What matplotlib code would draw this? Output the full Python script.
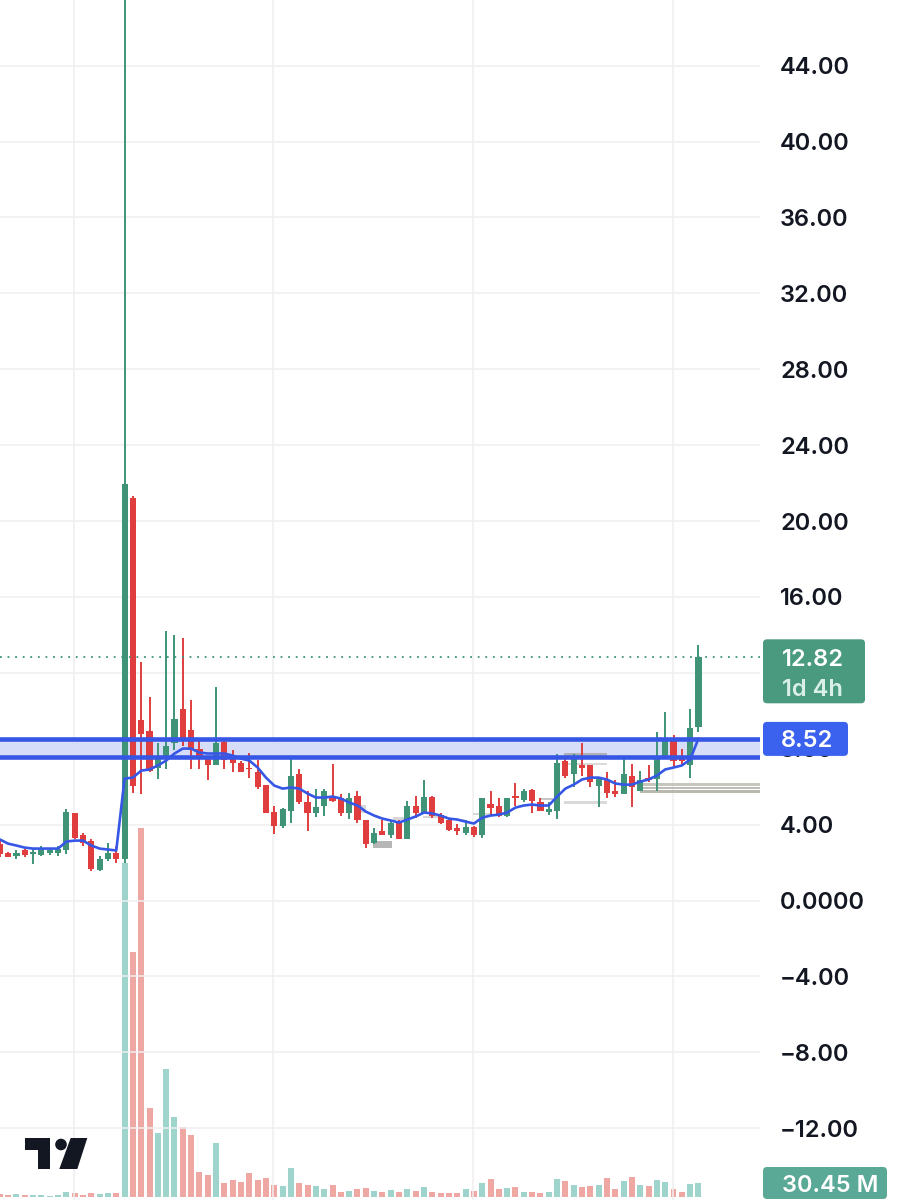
import matplotlib
matplotlib.use("Agg")
import matplotlib.pyplot as plt
import matplotlib.patches as mpatches
import numpy as np

# ---- data (one candle per bar, volumes in millions) ----
opens = [3.00, 2.53, 2.37, 2.64, 2.48, 2.42, 2.53, 2.53, 2.69, 4.59,
         3.48, 3.16, 1.63, 2.21, 2.53, 2.21, 21.20, 9.54, 8.91, 7.01,
         7.64, 8.28, 10.12, 9.01, 8.01, 7.54, 7.17, 8.38, 7.54, 7.27,
         7.01, 6.80, 6.11, 4.69, 3.95, 4.74, 6.69, 5.22, 4.59, 5.01,
         5.53, 5.38, 4.64, 5.53, 4.22, 3.06, 3.64, 3.43, 4.11, 3.27,
         5.01, 4.59, 5.48, 4.53, 4.22, 3.80, 3.58, 3.90, 3.48, 5.11,
         5.01, 4.48, 5.53, 5.32, 5.85, 5.22, 4.69, 4.74, 7.38, 6.69,
         7.17, 7.12, 6.06, 6.33, 5.75, 5.64, 6.59, 5.75, 6.48, 6.43,
         7.59, 8.59, 7.48, 7.12, 9.17]
closes = [2.48, 2.32, 2.53, 2.42, 2.58, 2.79, 2.69, 2.74, 4.69, 3.32,
          3.06, 1.69, 2.21, 2.53, 2.21, 21.93, 6.06, 8.80, 6.85, 7.64,
          8.17, 9.59, 8.59, 7.91, 7.48, 7.17, 8.33, 7.43, 7.27, 6.80,
          6.91, 6.01, 4.64, 3.95, 4.80, 6.59, 5.17, 4.64, 4.95, 5.80,
          5.27, 4.59, 5.38, 4.22, 3.00, 3.58, 3.48, 4.11, 3.27, 5.01,
          4.59, 5.48, 4.48, 4.11, 3.74, 3.69, 3.90, 3.43, 5.38, 4.90,
          4.48, 5.38, 5.38, 5.80, 5.27, 4.74, 4.85, 7.27, 6.54, 7.64,
          7.01, 6.27, 6.43, 5.69, 5.64, 6.69, 5.96, 6.38, 6.38, 7.64,
          8.49, 7.33, 7.33, 9.07, 12.82]
highs = [3.16, 2.58, 2.64, 2.74, 2.74, 2.90, 2.79, 2.90, 4.80, 4.64,
         3.58, 3.27, 2.37, 3.06, 2.90, 50.0, 21.30, 12.55, 10.75, 8.28,
         14.18, 14.02, 13.86, 10.59, 8.59, 7.64, 11.28, 8.43, 7.91, 7.38,
         7.80, 7.43, 6.11, 5.01, 4.90, 7.48, 6.96, 5.80, 5.90, 5.90,
         7.22, 5.64, 5.69, 5.75, 4.27, 3.80, 4.22, 4.22, 4.22, 5.27,
         5.53, 6.38, 5.53, 4.59, 4.32, 4.01, 4.22, 3.95, 5.43, 5.80,
         5.43, 5.43, 6.17, 5.90, 5.90, 5.43, 5.17, 7.75, 7.59, 7.75,
         8.28, 7.17, 6.48, 6.80, 6.33, 7.48, 7.22, 6.85, 7.17, 8.86,
         9.96, 8.75, 8.01, 10.07, 13.49]
lows = [2.32, 2.27, 2.21, 2.32, 1.95, 2.37, 2.42, 2.37, 2.48, 3.27,
        2.90, 1.58, 1.58, 2.11, 2.00, 2.00, 5.69, 5.59, 6.75, 6.43,
        6.96, 7.91, 8.12, 6.96, 6.96, 6.33, 7.12, 6.91, 6.75, 6.75,
        6.48, 5.90, 4.59, 3.53, 3.85, 4.11, 5.11, 3.69, 4.43, 4.48,
        5.17, 4.48, 4.32, 4.11, 2.79, 3.00, 3.43, 3.32, 3.22, 3.22,
        4.37, 4.59, 4.37, 4.06, 3.64, 3.48, 3.48, 3.37, 3.32, 4.48,
        4.43, 4.43, 5.01, 5.17, 4.64, 4.74, 4.53, 4.32, 6.48, 6.01,
        6.59, 5.96, 4.95, 5.38, 5.48, 5.64, 4.95, 5.75, 6.27, 5.80,
        7.59, 7.01, 7.22, 6.48, 8.86]
ma_line = [3.22, 3.00, 2.90, 2.79, 2.74, 2.74, 2.74, 2.74, 3.11, 3.16,
           3.16, 2.90, 2.74, 2.69, 2.64, 6.43, 6.48, 6.85, 6.91, 7.12,
           7.38, 7.75, 8.01, 8.01, 7.80, 7.75, 7.75, 7.75, 7.64, 7.48,
           7.38, 7.01, 6.48, 6.06, 5.90, 5.96, 5.90, 5.64, 5.43, 5.43,
           5.48, 5.38, 5.17, 5.01, 4.69, 4.48, 4.32, 4.22, 4.11, 4.27,
           4.43, 4.64, 4.59, 4.48, 4.32, 4.27, 4.16, 4.06, 4.37, 4.48,
           4.53, 4.64, 4.90, 5.01, 5.06, 5.01, 5.01, 5.48, 5.90, 6.11,
           6.38, 6.48, 6.48, 6.38, 6.17, 6.11, 6.11, 6.27, 6.38, 6.59,
           6.91, 7.01, 7.12, 7.43, 8.54]
volumes_m = [6.5, 4.4, 6.5, 4.4, 4.4, 4.4, 2.2, 4.4, 10.9, 8.7,
             4.4, 8.7, 6.5, 8.7, 8.7, 726, 533, 803, 194, 139,
             278, 174, 152, 135, 54, 48, 117, 30, 37, 33,
             52, 37, 41, 26, 24, 63, 30, 26, 24, 17,
             26, 11, 13, 17, 20, 13, 11, 15, 11, 17,
             13, 22, 11, 9, 9, 9, 17, 13, 30, 39,
             17, 20, 22, 11, 11, 9, 11, 39, 35, 26,
             22, 24, 26, 41, 17, 35, 43, 26, 24, 37,
             33, 17, 11, 28, 30.45]

band_top = 8.52
band_bottom = 7.56
last_price = 12.82
last_volume_label = "30.45 M"
countdown = "1d 4h"
# 12.00 sits fully under the last-price tag, so it is not labelled
price_ticks = [-12, -8, -4, 0, 4, 8, 12, 16, 20, 24, 28, 32, 36, 40, 44]
tick_labels = ["\u221212.00", "\u22128.00", "\u22124.00", "0.0000", "4.00", "8.00",
               "", "16.00", "20.00", "24.00", "28.00", "32.00", "36.00",
               "40.00", "44.00"]
date_grid = [8.9, 32.9, 56.9, 80.9]

# grey order labels: (first bar, last bar, low, high, shade)
order_boxes = [
    (44.9, 47.2, 2.79, 3.16, "#a9a9a9"),
    (42.9, 44.0, 4.64, 5.06, "#d0d0d0"),
    (47.3, 49.3, 4.22, 4.43, "#d0d0d0"),
    (50.9, 52.9, 4.37, 4.48, "#d0d0d0"),
    (54.1, 55.9, 4.22, 4.32, "#d0d0d0"),
    (56.9, 58.9, 4.53, 4.64, "#d0d0d0"),
    (64.8, 66.5, 5.32, 5.43, "#bdbdbd"),
    (67.8, 73.0, 7.59, 7.80, "#a9a9a9"),
    (67.8, 73.0, 7.12, 7.27, "#d3d3d3"),
    (67.8, 73.0, 5.11, 5.27, "#d3d3d3"),
    (77.0, 92.0, 6.06, 6.19, "#bdbcb3"),
    (77.0, 92.0, 5.89, 6.01, "#b3b2a8"),
    (77.0, 92.0, 5.69, 5.84, "#aeada3"),
]

GREEN = "#3f9478"
RED = "#e03e3e"
VOL_GREEN = "#9fd4cc"
VOL_RED = "#efa7a4"
BLUE = "#3657e6"
TEXT = "#131722"
FONT = dict(family=["Inter", "DejaVu Sans"], weight="semibold", size=17)

plt.rcParams["font.family"] = ["Inter", "DejaVu Sans"]

W, H = 899, 1200
fig = plt.figure(figsize=(W / 100, H / 100), dpi=100)
rect = [0, 0, 760 / W, 1]

vax = fig.add_axes(rect, zorder=0)
ax = fig.add_axes(rect, zorder=1)
ax.set_facecolor("none")

x = np.arange(len(opens))
o = np.array(opens)
c = np.array(closes)
up = c >= o

# volume
vax.bar(x, volumes_m, width=0.72, color=np.where(up, VOL_GREEN, VOL_RED), linewidth=0)
vax.set_xlim(0.02, 91.4)
vax.set_ylim(-6.5, 2603)
vax.axis("off")

# price panel
ax.set_xlim(0.02, 91.4)
ax.set_ylim(-15.78, 47.46)

ax.axhspan(band_bottom, band_top, color="#d6ddf9", zorder=1)
for x0, x1, lo, hi, shade in order_boxes:
    ax.add_patch(mpatches.Rectangle((x0, lo), x1 - x0, hi - lo, color=shade,
                                    alpha=0.85, lw=0, zorder=1.5))

colors = np.where(up, GREEN, RED)
ax.vlines(x, lows, highs, colors=colors, lw=1.4, zorder=2)
body_lo = np.minimum(o, c)
body_h = np.maximum(np.abs(c - o), 0.09)
ax.bar(x, body_h, bottom=body_lo, width=0.74, color=colors, linewidth=0, zorder=2.2)

ax.plot(x, ma_line, color=BLUE, lw=1.9, zorder=3, solid_capstyle="round")
ax.axhline(band_top, color=BLUE, lw=3.3, zorder=3.5)
ax.axhline(band_bottom, color=BLUE, lw=3.3, zorder=3.5)
ax.axhline(last_price, color=GREEN, lw=1.3, ls=(0, (1, 3.2)), zorder=3)

ax.set_yticks(price_ticks)
ax.set_yticklabels(tick_labels, fontdict=FONT)
ax.yaxis.tick_right()
ax.tick_params(axis="y", length=0, pad=14.4, labelcolor=TEXT)
ax.set_xticks(date_grid)
ax.set_xticklabels([])
ax.tick_params(axis="x", length=0)
ax.grid(color="#efefef", lw=1.1, zorder=0)
ax.set_axisbelow(True)
for s in ax.spines.values():
    s.set_visible(False)

# overlay in pixel coordinates for the price tags and the logo
lax = fig.add_axes([0, 0, 1, 1], zorder=5)
lax.set_xlim(0, W)
lax.set_ylim(0, H)
lax.axis("off")
lax.set_facecolor("none")


def tag(y_center, top_off, height, width, color):
    lax.add_patch(mpatches.FancyBboxPatch(
        (763, y_center - height + top_off), width, height,
        boxstyle="round,pad=0,rounding_size=4", fc=color, ec="none"))


y_last = ax.transData.transform((0, last_price))[1]
tag(y_last, 18, 64, 102, "#4a9a7f")
lax.text(782, y_last, f"{last_price:.2f}", color="white", va="center_baseline",
         ha="left", fontdict=FONT)
lax.text(782, y_last - 30, countdown, color="#d9efe7", va="center_baseline",
         ha="left", fontdict=FONT)

y_band = ax.transData.transform((0, band_top))[1]
tag(y_band, 17, 34, 85, "#3a62ee")
lax.text(781, y_band, f"{band_top:.2f}", color="white", va="center_baseline",
         ha="left", fontdict=FONT)

y_vol = vax.transData.transform((0, volumes_m[-1]))[1]
tag(y_vol, 16, 32, 124, "#5aa896")
lax.text(782, y_vol, last_volume_label, color="white", va="center_baseline",
         ha="left", fontdict=FONT)

# TradingView logo
lax.add_patch(mpatches.Rectangle((25, H - 1150), 25, 12, color="#131722", lw=0))
lax.add_patch(mpatches.Rectangle((37.7, H - 1169), 12.3, 31, color="#131722", lw=0))
lax.add_patch(mpatches.Circle((61, H - 1144.5), 5.8, color="#131722", lw=0))
lax.add_patch(mpatches.Polygon([(70.7, H - 1138), (87.3, H - 1138), (77.3, H - 1169),
                                (59.3, H - 1169)], closed=True, color="#131722", lw=0))

fig.savefig("out.png", dpi=100, facecolor="white")
